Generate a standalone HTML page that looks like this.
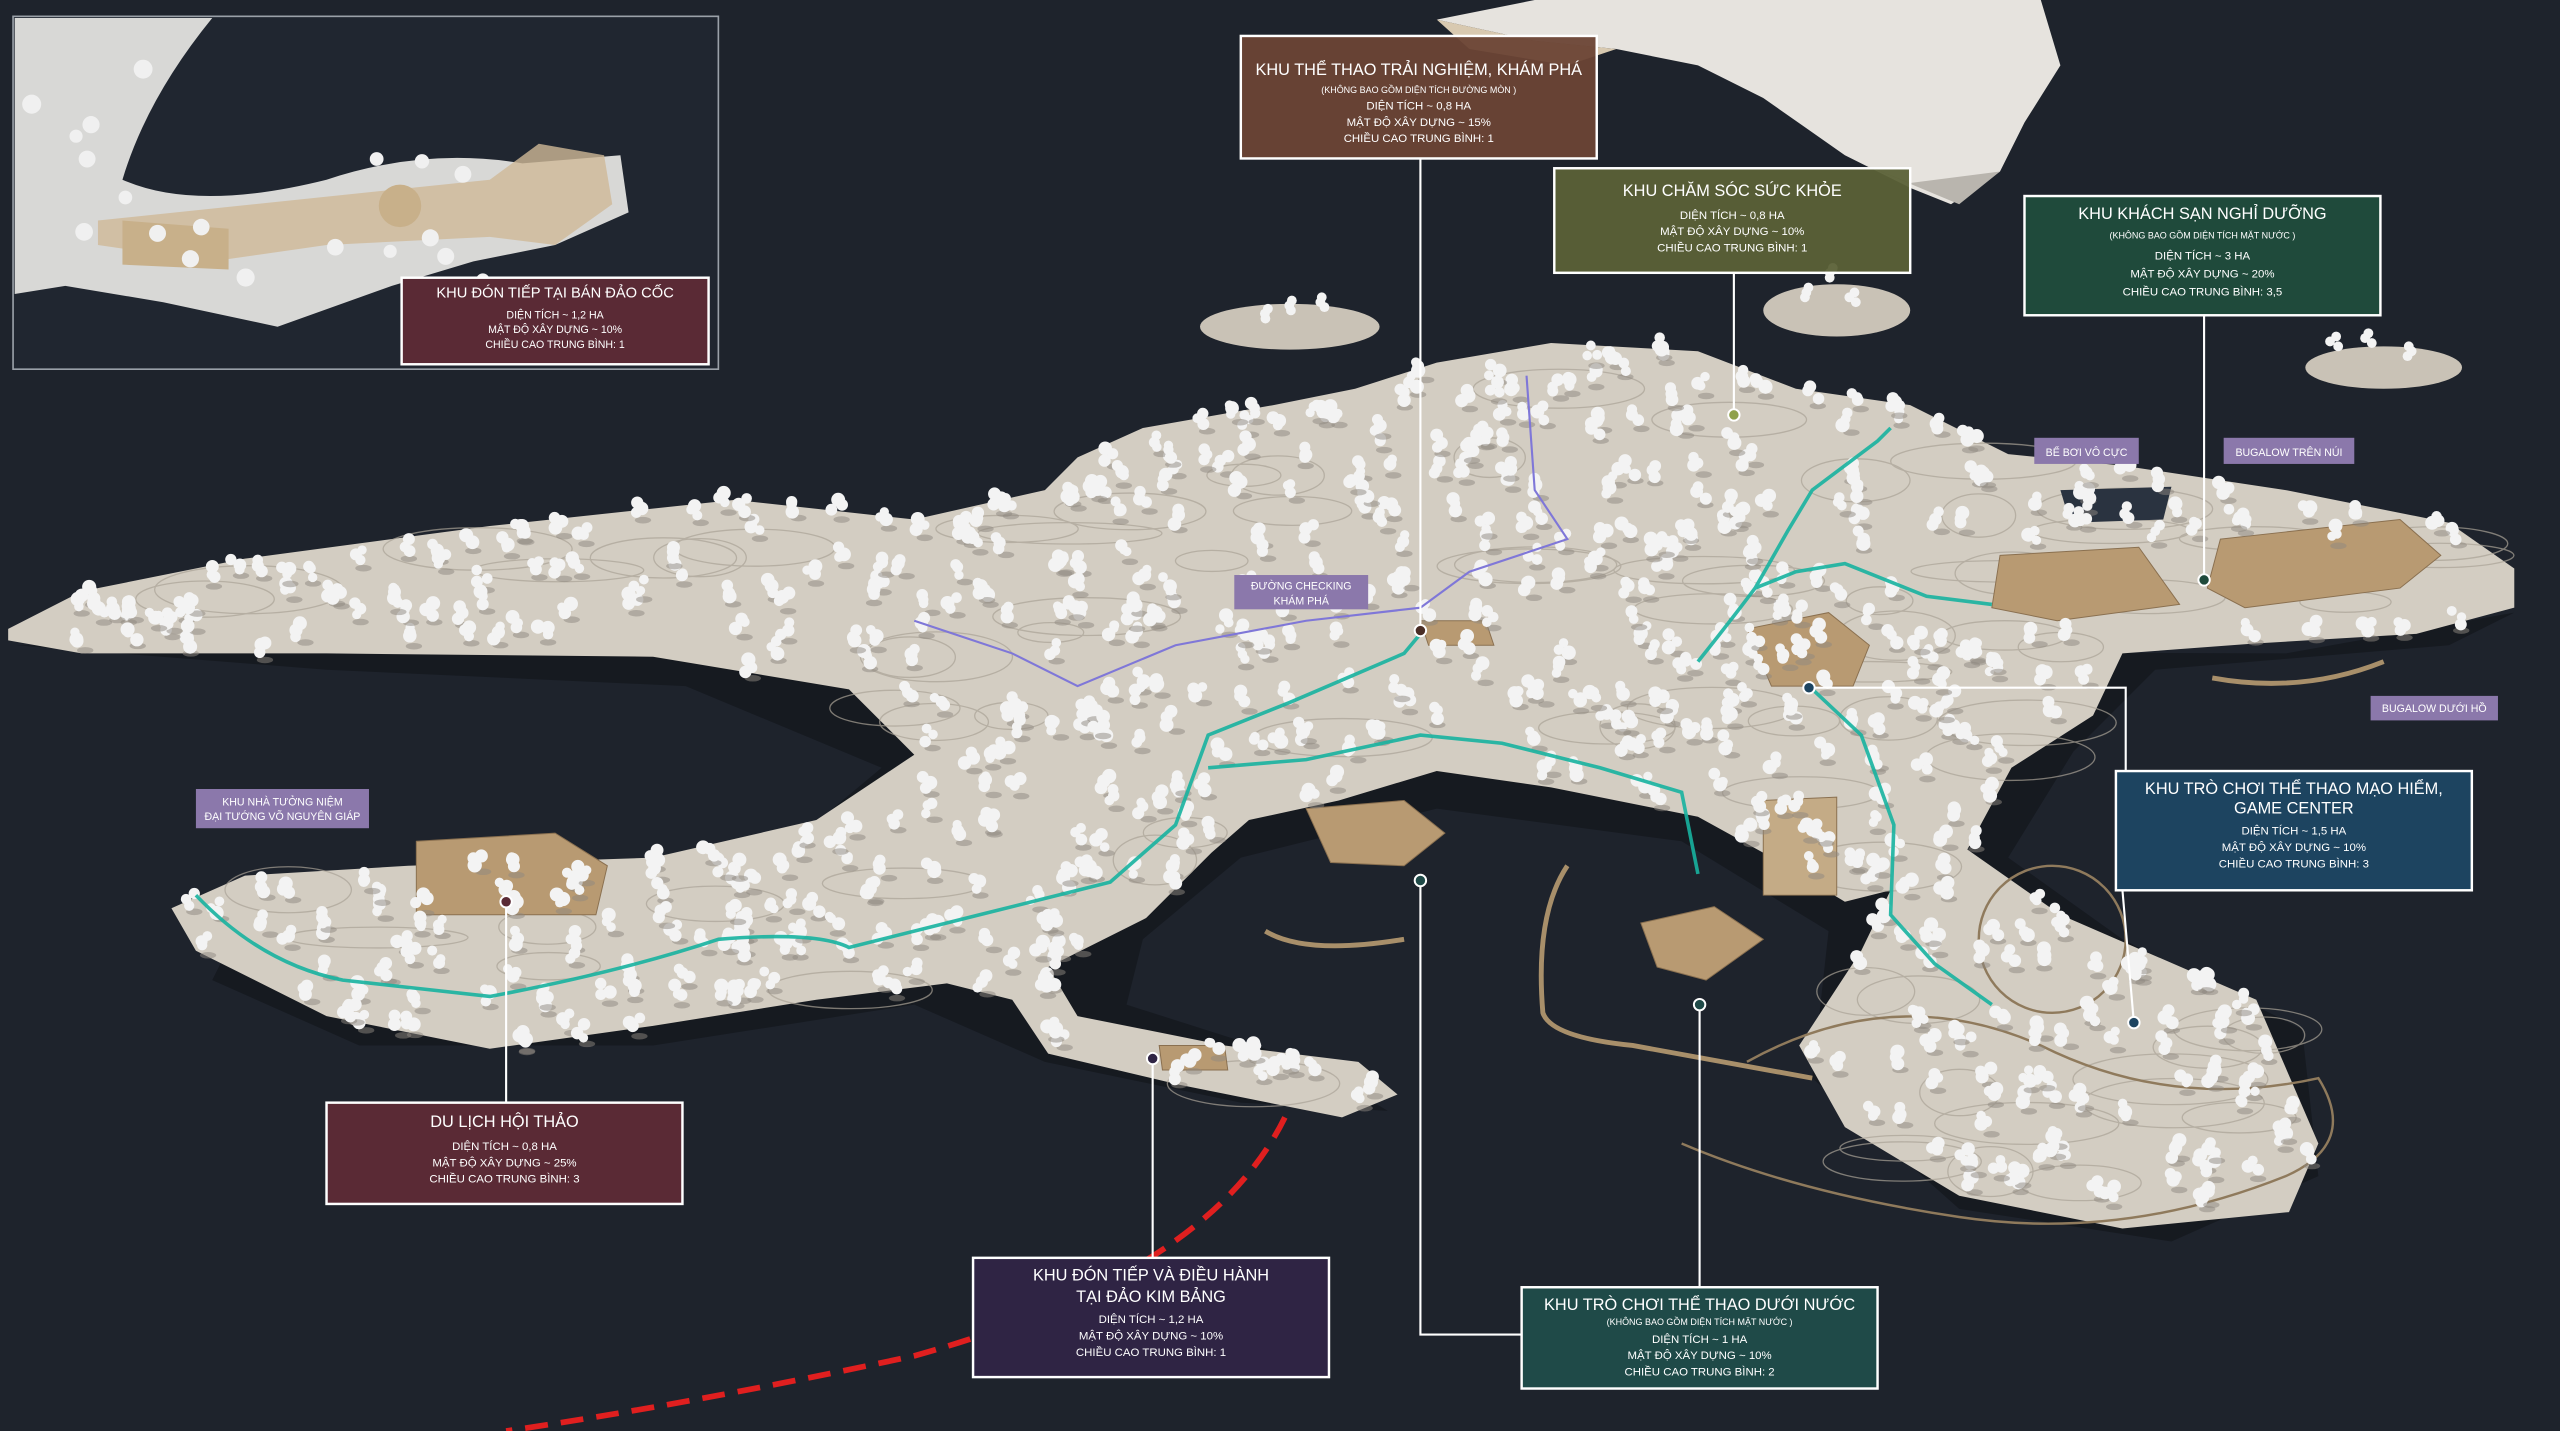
<!DOCTYPE html>
<html><head><meta charset="utf-8">
<style>
html,body{margin:0;padding:0;background:#1e232c;overflow:hidden}
svg{display:block}
.t{font-family:"Liberation Sans Narrow","Liberation Sans",sans-serif;fill:#fff;text-anchor:middle}
</style></head>
<body>
<svg id="s" width="2560" height="1431" viewBox="0 0 1568 876" preserveAspectRatio="none" xmlns="http://www.w3.org/2000/svg">
<rect width="1568" height="876" fill="#1e232c"/>
<!-- snow rock top -->
<path d="M880,12 L940,0 L1250,0 L1262,40 L1240,75 L1225,105 L1195,125 L1170,115 L1130,95 L1080,60 L1040,40 L990,30 L940,25 Z" fill="#e6e3de"/>
<path d="M1140,100 L1200,125 L1225,105 L1170,112 Z" fill="#b9b5ae"/>
<path d="M880,12 L940,25 L990,30 L960,40 L900,30 Z" fill="#d8c9b0"/>
<!-- small islands -->
<ellipse cx="790" cy="200" rx="55" ry="14" fill="#c9c2b6"/>
<ellipse cx="1125" cy="190" rx="45" ry="16" fill="#c9c2b6"/>
<ellipse cx="1460" cy="225" rx="48" ry="13" fill="#c9c2b6"/>
<!-- shadow under island -->
<path d="M10,395 L200,410 L420,420 L540,470 L480,520 L300,545 L150,560 L130,600 L220,640 L400,640 L560,615 L640,650 L760,675 L850,680 L800,650 L690,615 L700,575 L760,525 L880,495 L1030,515 L1120,570 L1110,660 L1200,740 L1330,760 L1420,720 L1410,630 L1300,575 L1230,525 L1270,460 L1320,410 L1500,395 L1540,375 L1400,400 Z" fill="#14181e" opacity="0.8"/>
<!-- main island -->
<path id="isl" d="M5,385 L50,362 L150,342 L300,322 L450,306 L560,318 L640,300 L660,280 L700,262 L780,248 L830,238 L880,222 L950,210 L1040,215 L1100,238 L1170,248 L1230,278 L1300,285 L1400,300 L1500,320 L1540,348 L1540,372 L1480,388 L1380,394 L1300,400 L1282,438 L1232,470 L1205,520 L1262,560 L1382,612 L1420,700 L1402,742 L1300,752 L1200,732 L1130,690 L1102,640 L1140,582 L1158,545 L1130,552 L1080,522 L1040,500 L950,482 L880,472 L820,490 L765,502 L742,522 L702,562 L642,592 L660,622 L750,640 L832,650 L856,670 L822,684 L722,664 L642,645 L620,612 L580,602 L500,612 L400,628 L300,642 L200,622 L120,582 L105,556 L150,536 L250,530 L400,525 L500,502 L560,462 L520,422 L400,402 L200,400 L50,400 L5,392 Z" fill="#d3cdc2"/>
<g id="contours" fill="none" stroke="#aaa397" stroke-width="0.8" opacity="0.7"></g>
<!-- buildings -->
<g fill="#b89a72" stroke="#8a7050" stroke-width="0.6">
<path d="M255,515 L340,510 L372,530 L365,560 L255,560 Z"/>
<path d="M800,495 L860,490 L885,510 L860,530 L815,528 Z"/>
<path d="M1070,385 L1120,375 L1145,395 L1135,420 L1085,420 Z"/>
<path d="M1225,340 L1310,335 L1335,370 L1260,380 L1220,372 Z"/>
<path d="M1360,330 L1470,318 L1495,340 L1470,360 L1375,372 L1352,360 Z"/>
<path d="M1005,565 L1050,555 L1080,575 L1045,600 L1015,592 Z"/>
<path d="M1080,490 L1125,488 L1125,548 L1080,548 Z" fill="#c4ab86"/>
<path d="M870,380 L910,380 L915,395 L875,395 Z"/>
<path d="M710,640 L750,640 L752,655 L712,655 Z"/>
</g>
<path d="M1262,300 L1330,298 L1325,318 L1268,320 Z" fill="#2a3340"/>
<g fill="none" stroke="#a88f6a" stroke-width="3">
<path d="M960,530 Q940,560 945,620 Q950,635 1000,640 L1110,660"/>
<path d="M1355,415 Q1410,425 1460,405"/>
<path d="M775,570 Q800,585 860,575"/>
</g>
<g fill="none" stroke="#8f7a5c" stroke-width="1.5">
<path d="M1070,650 Q1160,600 1250,640 Q1330,680 1420,660 Q1445,700 1400,720 Q1300,760 1200,745 Q1100,730 1030,700"/>
<circle cx="1257" cy="575" r="45"/>
</g>
<g id="trees" fill="#f3f3f3"></g>
<path d="M120,548 Q160,590 210,600 L300,610 Q380,595 440,575 Q500,570 520,580 L600,560 L680,540 L720,505 L740,450 L790,430 L860,400 L870,388 M740,470 L800,465 L870,450 L920,455 L980,470 L1030,485 L1040,535 M1040,405 Q1060,380 1075,360 L1100,350 L1130,345 L1180,365 L1220,370 M1075,360 L1095,325 L1110,300 L1150,270 L1158,262 M1108,420 L1140,450 L1160,505 L1158,560 L1185,590 L1220,615" fill="none" stroke="#17b3a0" stroke-width="2.2" opacity="0.9"/>
<path d="M560,380 L620,400 L660,420 L720,395 L800,380 L870,372 L900,350 L960,330 L940,300 L935,230" fill="none" stroke="#7f77d8" stroke-width="1.3"/>
<path d="M787,684 Q740,780 560,830 Q420,860 310,876" fill="none" stroke="#e01f1f" stroke-width="3.5" stroke-dasharray="14,8"/>
<!-- inset -->
<rect x="8" y="10" width="432" height="216" fill="#202630" stroke="#9aa0a8" stroke-width="1"/>
<path d="M9,11 L130,11 Q90,60 75,110 Q120,130 200,110 Q260,90 320,100 L380,95 L385,130 L340,150 L290,160 L240,175 L170,200 L100,185 L40,175 L9,180 Z" fill="#d8d8d6"/>
<path d="M60,135 L300,110 L330,88 L370,95 L375,125 L340,150 L300,145 L200,150 L130,160 L60,150 Z" fill="#cfb997" opacity="0.8"/>
<path d="M75,135 L140,140 L140,165 L75,162 Z" fill="#c8b08a"/>
<circle cx="245" cy="126" r="13" fill="#c8b08a"/>
<g id="insettrees" fill="#f0f0f0"></g>
<g stroke="#ffffff" stroke-width="1.3" fill="none">
<path d="M870,97 L870,385"/>
<path d="M1062,167 L1062,253"/>
<path d="M1350,193 L1350,355"/>
<path d="M1108,421 L1302,421 L1302,472"/>
<path d="M1300,545 L1307,626"/>
<path d="M310,675 L310,552"/>
<path d="M706,770 L706,648"/>
<path d="M1041,788 L1041,615"/>
<path d="M870,540 L870,817 L932,817"/>
</g>
<g stroke="#fff" stroke-width="1.2">
<circle cx="870" cy="386" r="3.5" fill="#4a2e26"/>
<circle cx="1062" cy="254" r="3.5" fill="#8fa14a"/>
<circle cx="1350" cy="355" r="3.5" fill="#1f4a3b"/>
<circle cx="1108" cy="421" r="3.5" fill="#1d4460"/>
<circle cx="1307" cy="626" r="3.5" fill="#1d4460"/>
<circle cx="310" cy="552" r="3.5" fill="#5a2a35"/>
<circle cx="706" cy="648" r="3.5" fill="#2f2444"/>
<circle cx="1041" cy="615" r="3.5" fill="#1f4a48"/>
<circle cx="870" cy="539" r="3.5" fill="#1f4a48"/>
</g>
<g stroke="#fff" stroke-width="1.5">
<rect x="760" y="22" width="218" height="75" fill="#6b4535" fill-opacity="0.95"/>
<rect x="952" y="103" width="218" height="64" fill="#5b6137" fill-opacity="0.95"/>
<rect x="1240" y="120" width="218" height="73" fill="#1f4a3b"/>
<rect x="246" y="170" width="188" height="53" fill="#5a2a35"/>
<rect x="1296" y="472" width="218" height="73" fill="#1d4460"/>
<rect x="200" y="675" width="218" height="62" fill="#5a2a35"/>
<rect x="596" y="770" width="218" height="73" fill="#2f2444"/>
<rect x="932" y="788" width="218" height="62" fill="#1f4a48"/>
</g>
<g class="t">
<text x="869" y="46" font-size="10">KHU THỂ THAO TRẢI NGHIỆM, KHÁM PHÁ</text>
<text x="869" y="57" font-size="5.5">(KHÔNG BAO GỒM DIỆN TÍCH ĐƯỜNG MÒN )</text>
<text x="869" y="67" font-size="7">DIỆN TÍCH ~ 0,8 HA</text>
<text x="869" y="77" font-size="7">MẬT ĐỘ XÂY DỰNG ~ 15%</text>
<text x="869" y="87" font-size="7">CHIỀU CAO TRUNG BÌNH: 1</text>
<text x="1061" y="120" font-size="10">KHU CHĂM SÓC SỨC KHỎE</text>
<text x="1061" y="134" font-size="7">DIỆN TÍCH ~ 0,8 HA</text>
<text x="1061" y="144" font-size="7">MẬT ĐỘ XÂY DỰNG ~ 10%</text>
<text x="1061" y="154" font-size="7">CHIỀU CAO TRUNG BÌNH: 1</text>
<text x="1349" y="134" font-size="10">KHU KHÁCH SẠN NGHỈ DƯỠNG</text>
<text x="1349" y="146" font-size="5.5">(KHÔNG BAO GỒM DIỆN TÍCH MẶT NƯỚC )</text>
<text x="1349" y="159" font-size="7">DIỆN TÍCH ~ 3 HA</text>
<text x="1349" y="170" font-size="7">MẬT ĐỘ XÂY DỰNG ~ 20%</text>
<text x="1349" y="181" font-size="7">CHIỀU CAO TRUNG BÌNH: 3,5</text>
<text x="340" y="182" font-size="9">KHU ĐÓN TIẾP TẠI BÁN ĐẢO CỐC</text>
<text x="340" y="195" font-size="6.5">DIỆN TÍCH ~ 1,2 HA</text>
<text x="340" y="204" font-size="6.5">MẬT ĐỘ XÂY DỰNG ~ 10%</text>
<text x="340" y="213" font-size="6.5">CHIỀU CAO TRUNG BÌNH: 1</text>
<text x="1405" y="486" font-size="10">KHU TRÒ CHƠI THỂ THAO MẠO HIỂM,</text>
<text x="1405" y="498" font-size="10">GAME CENTER</text>
<text x="1405" y="511" font-size="7">DIỆN TÍCH ~ 1,5 HA</text>
<text x="1405" y="521" font-size="7">MẬT ĐỘ XÂY DỰNG ~ 10%</text>
<text x="1405" y="531" font-size="7">CHIỀU CAO TRUNG BÌNH: 3</text>
<text x="309" y="690" font-size="10">DU LỊCH HỘI THẢO</text>
<text x="309" y="704" font-size="7">DIỆN TÍCH ~ 0,8 HA</text>
<text x="309" y="714" font-size="7">MẬT ĐỘ XÂY DỰNG ~ 25%</text>
<text x="309" y="724" font-size="7">CHIỀU CAO TRUNG BÌNH: 3</text>
<text x="705" y="784" font-size="10">KHU ĐÓN TIẾP VÀ ĐIỀU HÀNH</text>
<text x="705" y="797" font-size="10">TẠI ĐẢO KIM BẢNG</text>
<text x="705" y="810" font-size="7">DIỆN TÍCH ~ 1,2 HA</text>
<text x="705" y="820" font-size="7">MẬT ĐỘ XÂY DỰNG ~ 10%</text>
<text x="705" y="830" font-size="7">CHIỀU CAO TRUNG BÌNH: 1</text>
<text x="1041" y="802" font-size="10">KHU TRÒ CHƠI THỂ THAO DƯỚI NƯỚC</text>
<text x="1041" y="811" font-size="5.5">(KHÔNG BAO GỒM DIỆN TÍCH MẶT NƯỚC )</text>
<text x="1041" y="822" font-size="7">DIỆN TÍCH ~ 1 HA</text>
<text x="1041" y="832" font-size="7">MẬT ĐỘ XÂY DỰNG ~ 10%</text>
<text x="1041" y="842" font-size="7">CHIỀU CAO TRUNG BÌNH: 2</text>
</g>
<g fill="#8b78ab">
<rect x="120" y="483" width="106" height="24"/>
<rect x="756" y="352" width="82" height="21"/>
<rect x="1246" y="268" width="64" height="16"/>
<rect x="1362" y="268" width="80" height="16"/>
<rect x="1452" y="426" width="78" height="15"/>
</g>
<g class="t" font-size="6.5">
<text x="173" y="493">KHU NHÀ TƯỞNG NIỆM</text>
<text x="173" y="502">ĐẠI TƯỚNG VÕ NGUYÊN GIÁP</text>
<text x="797" y="361">ĐƯỜNG CHECKING</text>
<text x="797" y="370">KHÁM PHÁ</text>
<text x="1278" y="279">BỂ BƠI VÔ CỰC</text>
<text x="1402" y="279">BUGALOW TRÊN NÚI</text>
<text x="1491" y="436">BUGALOW DƯỚI HỒ</text>
</g>
</svg>
<script>
(function(){
var ns="http://www.w3.org/2000/svg";
var path=document.getElementById('isl');
var d=path.getAttribute('d').replace(/[MLZ]/g,' ').trim().split(/\s+/);
var P=[];for(var i=0;i<d.length;i++){var a=d[i].split(',');P.push([+a[0],+a[1]]);}
function inside(x,y){var c=false;for(var i=0,j=P.length-1;i<P.length;j=i++){var xi=P[i][0],yi=P[i][1],xj=P[j][0],yj=P[j][1];if(((yi>y)!=(yj>y))&&(x<(xj-xi)*(y-yi)/(yj-yi)+xi))c=!c;}return c;}
var seed=7;function r(){seed=(seed*16807)%2147483647;return (seed-1)/2147483646;}
var g=document.getElementById('trees');
var cg=document.getElementById('contours');
for(var k=0;k<160;k++){var x=40+r()*1460,y=230+r()*500;if(!inside(x,y))continue;var e=document.createElementNS(ns,'ellipse');e.setAttribute('cx',x);e.setAttribute('cy',y);e.setAttribute('rx',20+r()*40);e.setAttribute('ry',6+r()*10);cg.appendChild(e);}
var n=0;
for(var k=0;k<4000&&n<700;k++){var x=r()*1568,y=200+r()*560;if(!inside(x,y))continue;
 if(x>1200&&y>330&&y<380)continue;
 n++;
 var sh=document.createElementNS(ns,'ellipse');sh.setAttribute('cx',x+3);sh.setAttribute('cy',y+5);sh.setAttribute('rx',5);sh.setAttribute('ry',2);sh.setAttribute('fill','#8d887f');sh.setAttribute('opacity','0.5');g.appendChild(sh);
 for(var q=0;q<3;q++){var c=document.createElementNS(ns,'circle');c.setAttribute('cx',x+(r()-.5)*7);c.setAttribute('cy',y-q*3+(r()-.5)*3);c.setAttribute('r',2.8+r()*1.6);g.appendChild(c);}
}
var small=[[790,190],[775,195],[810,188],[1120,170],[1105,182],[1135,185],[1450,210],[1475,218],[1430,212]];
small.forEach(function(p){for(var q=0;q<3;q++){var c=document.createElementNS(ns,'circle');c.setAttribute('cx',p[0]+(r()-.5)*6);c.setAttribute('cy',p[1]-q*3);c.setAttribute('r',3);g.appendChild(c);}});
var ig=document.getElementById('insettrees');
for(var k=0;k<40;k++){var x=15+r()*310,y=20+r()*160;if(x>90&&y<95)continue;var c=document.createElementNS(ns,'circle');c.setAttribute('cx',x);c.setAttribute('cy',y);c.setAttribute('r',4+r()*2);ig.appendChild(c);}
})();
</script>
</body></html>
